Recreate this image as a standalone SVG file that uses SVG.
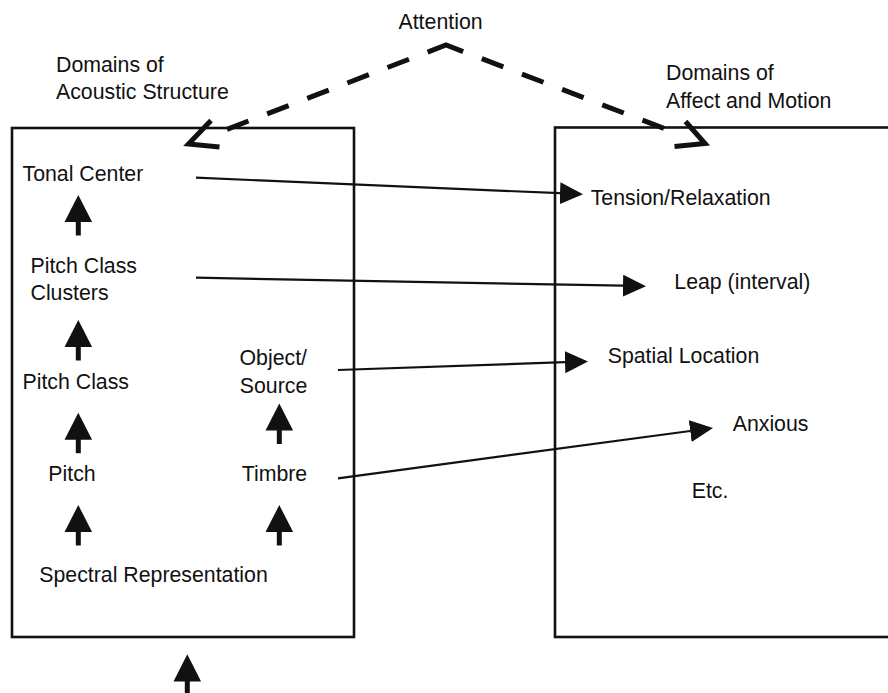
<svg xmlns="http://www.w3.org/2000/svg" xmlns:xlink="http://www.w3.org/1999/xlink" width="888" height="693" viewBox="0 0 888 693">
<style>
  text { font-family: "Liberation Sans", Arial, Helvetica, sans-serif; font-size: 21.3px; fill: #111; }
  .box { fill: none; stroke: #111; stroke-width: 2.6; }
  .conn { fill: none; stroke: #111; stroke-width: 2.2; }
  .att { fill: none; stroke: #111; stroke-width: 5; stroke-linejoin: miter; }
  .open { fill: none; stroke: #111; stroke-width: 5; stroke-linecap: butt; stroke-linejoin: miter; }
  .solid { fill: #111; }
</style>
<defs>
  <marker id="tri" viewBox="0 0 23 22" refX="0" refY="11" markerWidth="23" markerHeight="22" markerUnits="userSpaceOnUse" orient="auto">
    <path d="M0,0 L23,11 L0,22 Z" fill="#111"/>
  </marker>
  <g id="up">
    <polygon points="0,0 13.8,27 -13.8,27" class="solid"/>
    <rect x="-2.5" y="26" width="5" height="14.5" class="solid"/>
  </g>
</defs>

<g id="box-acoustic">
  <rect class="box" x="12" y="128" width="342" height="509"/>
  <text x="56" y="71.5">Domains of</text>
  <text x="56" y="99.3">Acoustic Structure</text>
</g>

<g id="box-affect">
  <rect class="box" x="555" y="127.5" width="360" height="509.5"/>
  <text x="666" y="80">Domains of</text>
  <text x="666" y="108.3">Affect and Motion</text>
</g>

<g id="attention"><text x="398.5" y="29.3">Attention</text></g>

<g id="tonal-center"><text x="22.5" y="181">Tonal Center</text></g>
<g id="pitch-class-clusters"><text x="30.5" y="273.3">Pitch Class</text><text x="30.5" y="300">Clusters</text></g>
<g id="pitch-class"><text x="22.5" y="389.3">Pitch Class</text></g>
<g id="pitch"><text x="48.3" y="480.7">Pitch</text></g>
<g id="object-source"><text x="239.5" y="365">Object/</text><text x="239.8" y="392.7">Source</text></g>
<g id="timbre"><text x="241.7" y="480.7">Timbre</text></g>
<g id="spectral"><text x="39.3" y="581.7">Spectral Representation</text></g>

<g id="tension"><text x="590.7" y="205">Tension/Relaxation</text></g>
<g id="leap"><text x="674.3" y="289.3">Leap (interval)</text></g>
<g id="spatial"><text x="607.7" y="363.3">Spatial Location</text></g>
<g id="anxious"><text x="732.7" y="430.7">Anxious</text></g>
<g id="etc"><text x="691.7" y="498.3">Etc.</text></g>

<g id="connectors">
  <!-- attention dashed lines -->
  <path class="att" d="M227,129.3 L446,45 L665,128.8" stroke-dasharray="23 20 23 20 23 20 23 20 23 20 38 20 23 20 23 20 23 20 23 20 23 20"/>
  <polyline class="open" points="211,120.5 188.5,144 219.5,147"/>
  <polyline class="open" points="685.5,121.5 705,143.5 674.5,146.5"/>

  <!-- mapping arrows -->
  <path class="conn" d="M196,177.7 L560,193.2" marker-end="url(#tri)"/>
  <path class="conn" d="M196,277.7 L623,285.7" marker-end="url(#tri)"/>
  <path class="conn" d="M338,370 L565,362.2" marker-end="url(#tri)"/>
  <path class="conn" d="M338,478.3 L690.2,431" marker-end="url(#tri)"/>

  <!-- hierarchy block arrows -->
  <use xlink:href="#up" x="78.3" y="195"/>
  <use xlink:href="#up" x="78.3" y="320"/>
  <use xlink:href="#up" x="78.3" y="412.7"/>
  <use xlink:href="#up" x="78.3" y="505"/>
  <use xlink:href="#up" x="279.3" y="403.5"/>
  <use xlink:href="#up" x="279.3" y="505"/>
  <polygon class="solid" points="187.3,654.3 201.1,681.5 173.5,681.5"/>
  <rect class="solid" x="184.8" y="680.5" width="5" height="15"/>
</g>
</svg>
